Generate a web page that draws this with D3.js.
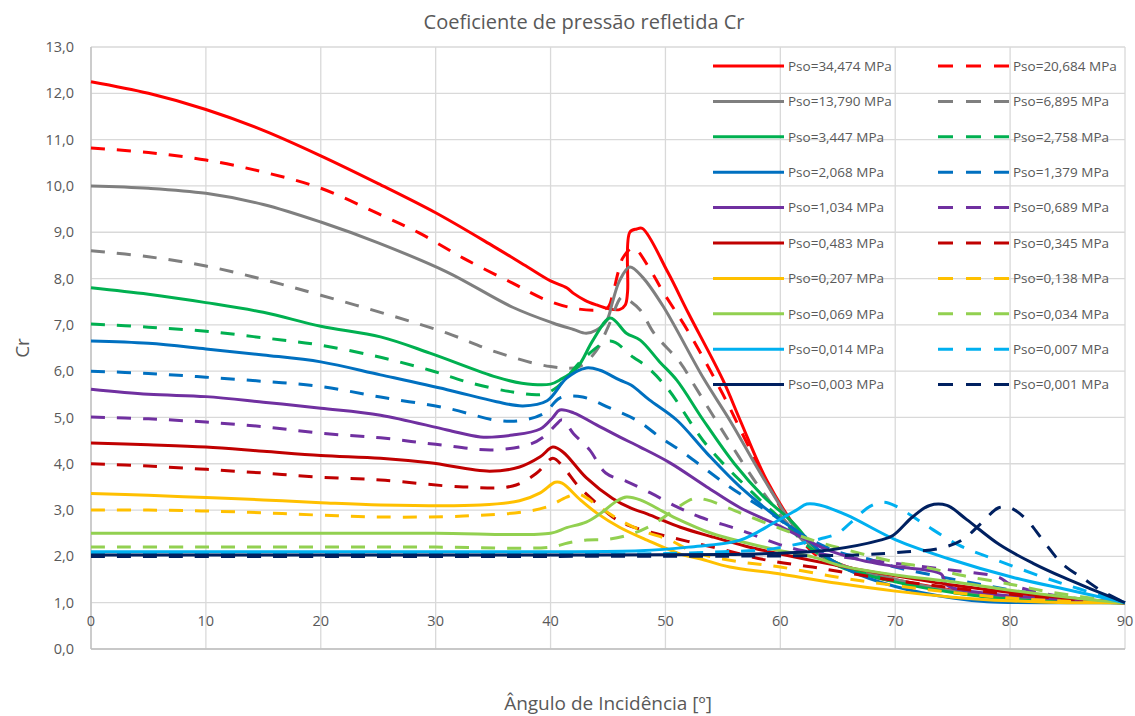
<!DOCTYPE html>
<html>
<head>
  <meta charset="utf-8">
  <title>Coeficiente de pressão refletida Cr</title>
  <script src="https://d3js.org/d3.v7.min.js"></script>
  <style>
    body { margin: 0; background: #fff; }
    text { font-family: "Open Sans", "Liberation Sans", sans-serif; fill: #595959; }
    .grid line { stroke: #d9d9d9; stroke-width: 1.3; }
    .tick-label { font-size: 14.5px; }
    .legend text { font-size: 13.5px; }
  </style>
</head>
<body>
  <svg id="chart"></svg>
  <script>
    // axis ticks
    var xTicks = [0, 10, 20, 30, 40, 50, 60, 70, 80, 90];
    var yTicks = [0, 1, 2, 3, 4, 5, 6, 7, 8, 9, 10, 11, 12, 13];

    // series labels, in legend order (row by row, two columns)
    var seriesNames = [
      "Pso=34,474 MPa", "Pso=20,684 MPa", "Pso=13,790 MPa", "Pso=6,895 MPa",
      "Pso=3,447 MPa", "Pso=2,758 MPa", "Pso=2,068 MPa", "Pso=1,379 MPa",
      "Pso=1,034 MPa", "Pso=0,689 MPa", "Pso=0,483 MPa", "Pso=0,345 MPa",
      "Pso=0,207 MPa", "Pso=0,138 MPa", "Pso=0,069 MPa", "Pso=0,034 MPa",
      "Pso=0,014 MPa", "Pso=0,007 MPa", "Pso=0,003 MPa", "Pso=0,001 MPa"
    ];

    // [angle, Cr]
    var p34474 = [[0,12.25],[5,12.0],[10,11.65],[15,11.2],[20,10.65],[25,10.05],[30,9.42],[35,8.7],[38,8.25],[40,7.95],[41.4,7.8],[42,7.68],[43,7.53],[44,7.43],[45,7.35],[46,7.33],[46.5,7.43],[46.7,7.7],[46.9,9.0],[47.5,9.07],[48,9.08],[50.2,8.14],[52,7.25],[55,5.81],[56.5,4.94],[58.8,3.65],[61.5,2.57],[63,2.15],[65,1.85],[70,1.5],[75,1.27],[80,1.1],[85,1.03],[90,1.0]];
    var p20684 = [[0,10.82],[5,10.72],[10,10.56],[15,10.3],[20,9.95],[25,9.4],[28.6,8.98],[32.4,8.44],[36.7,7.9],[39.5,7.55],[42,7.36],[44,7.32],[45,7.38],[45.4,7.65],[45.9,8.15],[46.3,8.45],[47.2,8.66],[48.7,8.18],[49.7,7.75],[52,6.85],[55,5.5],[58,4.0],[61,2.65],[63,2.05],[65,1.8],[70,1.45],[75,1.25],[80,1.1],[85,1.03],[90,1.0]];
    var p13790 = [[0,10.0],[5,9.95],[10,9.84],[15,9.6],[20,9.22],[25,8.77],[31,8.14],[36.7,7.38],[40.2,7.04],[42,6.9],[43.1,6.82],[44,6.89],[44.9,7.1],[45.4,7.5],[46,7.95],[46.9,8.25],[48,8.03],[49.8,7.4],[53.3,5.85],[55.6,4.94],[58.5,3.7],[61.4,2.57],[63,2.15],[65,1.85],[70,1.5],[75,1.25],[80,1.1],[85,1.03],[90,1.0]];
    var p6895 = [[0,8.6],[5,8.47],[10,8.27],[15,7.98],[20,7.64],[26,7.21],[31,6.82],[35.3,6.41],[40,6.1],[42.5,6.1],[44,6.45],[45,6.95],[46.2,7.6],[46.7,7.55],[47.8,7.32],[49,6.82],[51.3,6.18],[52.4,5.74],[55,4.7],[58,3.55],[61,2.6],[63,2.1],[65,1.82],[70,1.47],[75,1.25],[80,1.1],[85,1.03],[90,1.0]];
    var p3447 = [[0,7.8],[5,7.66],[10,7.48],[15,7.27],[20,6.97],[25.2,6.74],[29.5,6.39],[35.3,5.87],[37.5,5.74],[40,5.72],[40.8,5.81],[42.3,6.07],[43.7,6.67],[45.2,7.15],[46.6,6.82],[47.8,6.67],[49.5,6.2],[51,5.8],[53.3,4.94],[56,4.0],[58.5,3.3],[61,2.75],[63,2.2],[65,1.8],[70,1.45],[75,1.22],[80,1.08],[85,1.02],[90,1.0]];
    var p2758 = [[0,7.02],[5,6.95],[10,6.86],[15,6.72],[20,6.56],[25.2,6.3],[29.5,6.02],[33,5.75],[36.7,5.55],[39.3,5.5],[40.6,5.66],[41.5,5.9],[43,6.3],[45.2,6.65],[47.2,6.3],[48.4,6.09],[50.2,5.62],[53.6,4.4],[57.6,3.37],[60.5,2.7],[62.5,2.2],[65,1.85],[70,1.45],[75,1.22],[80,1.08],[85,1.02],[90,1.0]];
    var p2068 = [[0,6.65],[5,6.6],[10,6.48],[15,6.35],[20,6.2],[25.2,5.92],[31,5.6],[35.3,5.34],[37.6,5.25],[39.7,5.36],[41.4,5.85],[43.1,6.07],[44.3,6.02],[46,5.81],[47,5.7],[48.6,5.38],[51,4.94],[53.6,4.23],[56.5,3.5],[60,2.79],[62,2.45],[64,2.0],[66,1.7],[70,1.35],[75,1.1],[78,1.02],[85,1.0],[90,1.0]];
    var p1379 = [[0,6.0],[5,5.95],[10,5.87],[15,5.78],[20,5.67],[25.2,5.44],[31,5.2],[35.3,4.94],[37.6,4.94],[39.5,5.1],[40.8,5.42],[42.8,5.44],[45.2,5.2],[47.5,4.94],[49.5,4.58],[51.5,4.25],[55.6,3.5],[59.1,2.94],[62,2.45],[65,2.1],[68,1.92],[70,1.77],[75.4,1.49],[80.2,1.27],[85,1.1],[90,1.0]];
    var p1034 = [[0,5.61],[5,5.5],[10,5.45],[15,5.33],[20,5.2],[25.2,5.05],[31,4.73],[33.9,4.58],[36.7,4.62],[39.1,4.75],[40.2,5.0],[40.8,5.16],[42,5.1],[44,4.84],[46,4.58],[47.8,4.36],[50.4,4.02],[53.6,3.5],[56.5,3.05],[60,2.65],[64,2.15],[67,1.92],[70,1.78],[74,1.62],[74.5,1.38],[78,1.2],[84,1.08],[90,1.0]];
    var p0689 = [[0,5.01],[5,4.97],[10,4.9],[15,4.8],[20,4.66],[25.2,4.56],[30,4.42],[35,4.3],[38.2,4.42],[39.5,4.6],[40.5,4.85],[41,4.95],[42,4.65],[43.4,4.3],[44.8,3.8],[46.6,3.62],[48.7,3.37],[51,3.07],[53,2.85],[56.5,2.57],[60,2.25],[62,2.12],[65,2.0],[70,1.85],[75,1.7],[79,1.55],[80,1.4],[84,1.15],[90,1.0]];
    var p0483 = [[0,4.45],[5,4.41],[10,4.36],[15,4.27],[20,4.18],[25.2,4.12],[29.5,4.02],[34.7,3.84],[37.3,3.93],[39.1,4.15],[40.2,4.36],[41.1,4.25],[43.1,3.7],[45.4,3.25],[47,3.04],[48.4,2.92],[51.3,2.63],[54.1,2.42],[57,2.22],[60,2.05],[65,1.8],[70,1.58],[75,1.38],[80,1.22],[85,1.1],[90,1.0]];
    var p0345 = [[0,4.0],[5,3.95],[10,3.88],[15,3.8],[20,3.71],[25.2,3.65],[32.4,3.5],[36.7,3.52],[38.8,3.8],[40.2,4.12],[41.1,3.93],[42.3,3.55],[43.2,3.33],[45.4,2.85],[46.3,2.72],[48,2.57],[51,2.38],[54.1,2.2],[58.8,1.92],[62.8,1.77],[65,1.68],[70,1.48],[75,1.32],[80,1.18],[85,1.08],[90,1.0]];
    var p0207 = [[0,3.36],[5,3.32],[10,3.27],[15,3.22],[20,3.16],[25.2,3.11],[33.9,3.11],[37.3,3.2],[39.1,3.37],[40.4,3.6],[41,3.58],[42.6,3.22],[44,2.94],[46,2.63],[48.4,2.35],[51.3,2.05],[53,1.95],[55.6,1.77],[59.4,1.64],[65,1.42],[70,1.25],[75,1.12],[80,1.04],[85,1.0],[90,1.0]];
    var p0138 = [[0,3.0],[5,3.0],[10,2.98],[15,2.94],[20,2.89],[25.2,2.85],[32.4,2.87],[37.6,2.96],[39.7,3.07],[41.4,3.28],[42.3,3.35],[43.1,3.27],[44,3.11],[46,2.79],[48,2.55],[50.4,2.35],[52.4,2.1],[56,1.9],[60,1.77],[65,1.55],[70,1.37],[75,1.22],[80,1.1],[85,1.03],[90,1.0]];
    var p0069 = [[0,2.5],[10,2.5],[20,2.5],[30,2.5],[40,2.5],[41.4,2.62],[43.1,2.74],[44.3,2.92],[45.8,3.2],[46.6,3.28],[47.8,3.22],[50.7,2.85],[54,2.5],[57.1,2.29],[60,2.12],[62.8,1.99],[65.2,1.8],[70,1.6],[75,1.45],[80,1.27],[85,1.12],[90,1.0]];
    var p0034 = [[0,2.2],[10,2.2],[20,2.2],[30,2.2],[40,2.2],[41.5,2.29],[43,2.35],[45,2.37],[47,2.48],[49,2.7],[51,3.05],[52.5,3.25],[53.6,3.22],[56.5,2.94],[60,2.6],[62.8,2.35],[65.8,2.14],[70,1.88],[72.5,1.77],[76,1.58],[80,1.4],[83,1.25],[90,1.0]];
    var p0014 = [[0,2.1],[10,2.1],[20,2.1],[30,2.1],[40,2.1],[47.8,2.12],[52,2.2],[56.5,2.35],[59.4,2.72],[61.4,3.0],[62.3,3.13],[63.4,3.11],[65.8,2.89],[70.1,2.35],[74.5,1.96],[80.2,1.55],[85,1.28],[90,1.0]];
    var p0007 = [[0,2.05],[20,2.05],[40,2.05],[50,2.06],[55,2.1],[58.5,2.14],[61,2.24],[63.5,2.38],[65,2.5],[66,2.7],[67.8,3.08],[69,3.17],[70.1,3.08],[72.5,2.7],[75.5,2.25],[78.5,1.95],[82.9,1.55],[86,1.3],[90,1.0]];
    var p0003 = [[0,2.03],[20,2.03],[40,2.03],[55,2.04],[60,2.07],[64.3,2.14],[68.7,2.35],[69.8,2.45],[71.5,2.85],[73,3.1],[74.5,3.1],[76.2,2.8],[79.1,2.25],[82,1.85],[84.6,1.55],[87,1.3],[90,1.0]];
    var p0001 = [[0,2.0],[20,2.0],[40,2.0],[60,2.01],[66.7,2.03],[71,2.1],[73.8,2.17],[75.8,2.35],[77.5,2.72],[79,3.05],[80,3.05],[81.4,2.8],[83,2.3],[84.5,1.85],[86.5,1.5],[88,1.25],[90,1.0]];

    var seriesData = [p34474, p20684, p13790, p6895, p3447, p2758, p2068, p1379, p1034, p0689,
                      p0483, p0345, p0207, p0138, p0069, p0034, p0014, p0007, p0003, p0001];

    // styles
    var seriesColors = ["#ff0000", "#ff0000", "#7f7f7f", "#7f7f7f", "#00b050", "#00b050",
                        "#0070c0", "#0070c0", "#7030a0", "#7030a0", "#c00000", "#c00000",
                        "#ffc000", "#ffc000", "#92d050", "#92d050", "#00b0f0", "#00b0f0",
                        "#002060", "#002060"];

    var width = 1135, height = 716;
    var plot = {left: 91, right: 1125, top: 47, bottom: 649};

    var svg = d3.select("#chart")
                .attr("width", width)
                .attr("height", height);

    var x = d3.scaleLinear().domain([0, 90]).range([plot.left, plot.right]);
    var y = d3.scaleLinear().domain([0, 13]).range([plot.bottom, plot.top]);

    var fmt = function(v) { return d3.format(".1f")(v).replace(".", ","); };

    // grid
    var grid = svg.append("g").attr("class", "grid");
    grid.selectAll(".v").data(xTicks).enter().append("line")
        .attr("x1", d => x(d)).attr("x2", d => x(d))
        .attr("y1", plot.top).attr("y2", plot.bottom);
    grid.selectAll(".h").data(yTicks).enter().append("line")
        .attr("x1", plot.left).attr("x2", plot.right)
        .attr("y1", d => y(d)).attr("y2", d => y(d));

    // axis lines
    svg.append("line")
        .attr("x1", plot.left).attr("x2", plot.right)
        .attr("y1", y(0)).attr("y2", y(0))
        .style("stroke", "#bfbfbf").style("stroke-width", 1.5);
    svg.append("line")
        .attr("x1", x(0)).attr("x2", x(0))
        .attr("y1", plot.top).attr("y2", plot.bottom)
        .style("stroke", "#bfbfbf").style("stroke-width", 1.3);

    // tick labels
    svg.selectAll(".ylab").data(yTicks).enter().append("text")
        .attr("class", "tick-label")
        .attr("x", 74).attr("y", d => y(d))
        .attr("dy", "0.35em")
        .attr("text-anchor", "end")
        .text(d => fmt(d));
    svg.selectAll(".xlab").data(xTicks).enter().append("text")
        .attr("class", "tick-label")
        .attr("x", d => x(d)).attr("y", 621)
        .attr("dy", "0.35em")
        .attr("text-anchor", "middle")
        .text(d => d);

    // lines
    var line = d3.line()
        .x(d => x(d[0]))
        .y(d => y(d[1]))
        .curve(d3.curveCatmullRom.alpha(0.5));

    svg.append("g").selectAll("path")
        .data(seriesData)
        .enter()
        .append("path")
        .attr("d", d => line(d))
        .style("fill", "none")
        .style("stroke", (d, i) => seriesColors[i])
        .style("stroke-width", 3)
        .style("stroke-linejoin", "round")
        .style("stroke-dasharray", (d, i) => i % 2 ? "14,12" : null);

    // legend
    var legend = svg.append("g").attr("class", "legend");
    var items = legend.selectAll("g")
        .data(seriesNames)
        .enter()
        .append("g")
        .attr("transform", (d, i) => "translate(" + (i % 2 ? 938 : 713) + "," + (66 + Math.floor(i / 2) * 35.4) + ")");
    items.append("line")
        .attr("x1", 0).attr("x2", 71)
        .style("stroke", (d, i) => seriesColors[i])
        .style("stroke-width", 3)
        .style("stroke-dasharray", (d, i) => i % 2 ? "15,13" : null);
    items.append("text")
        .attr("x", 75).attr("dy", "0.35em")
        .text(d => d);

    // titles
    svg.append("text")
        .attr("x", 584).attr("y", 22)
        .attr("dy", "0.35em")
        .attr("text-anchor", "middle")
        .style("font-size", "20px")
        .text("Coeficiente de pressão refletida Cr");

    svg.append("text")
        .attr("x", 608).attr("y", 703)
        .attr("dy", "0.35em")
        .attr("text-anchor", "middle")
        .style("font-size", "19px")
        .text("Ângulo de Incidência [º]");

    svg.append("text")
        .attr("transform", "translate(22," + 348 + ") rotate(-90)")
        .attr("dy", "0.35em")
        .attr("text-anchor", "middle")
        .style("font-size", "19px")
        .text("Cr");
  </script>
</body>
</html>
